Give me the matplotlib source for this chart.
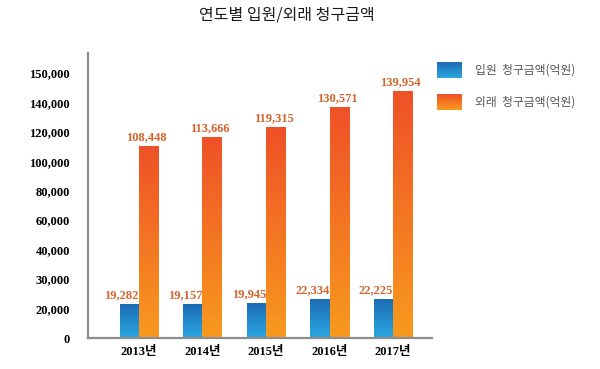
import numpy as np
import matplotlib
matplotlib.use('Agg')
import matplotlib.pyplot as plt
from matplotlib.colors import LinearSegmentedColormap

# data
years = ['2013년', '2014년', '2015년', '2016년', '2017년']
inpatient = [19282, 19157, 19945, 22334, 22225]
outpatient = [108448, 113666, 119315, 130571, 139954]
ytick_labels = ['0', '20,000', '30,000', '40,000', '60,000', '80,000',
                '100,000', '120,000', '140,000', '150,000']
series_names = ['입원  청구금액(억원)', '외래  청구금액(억원)']
title = '연도별 입원/외래 청구금액'

blue_cm = LinearSegmentedColormap.from_list('b', ['#2aa8e2', '#1c6ab4'])
orange_cm = LinearSegmentedColormap.from_list('o', ['#f89a1e', '#ef5127'])
label_color = '#d3642c'
kr = 'Noto Sans CJK KR'

fig = plt.figure(figsize=(6, 3.69), dpi=100)
ax = fig.add_axes([0.1467, 0.084, 0.573, 0.772])

x = np.arange(len(years))
w = 0.3
grad = np.linspace(0, 1, 256).reshape(-1, 1)


def grad_bars(bars, cmap):
    for b in bars:
        x0, y0 = b.get_xy()
        im = ax.imshow(grad, cmap=cmap, origin='lower', aspect='auto',
                       extent=[x0, x0 + b.get_width(), y0, y0 + b.get_height()],
                       zorder=2)
        im.set_clip_path(b)
        b.set_facecolor('none')


b1 = ax.bar(x - w / 2, inpatient, w, edgecolor='none', zorder=2)
b2 = ax.bar(x + w / 2, outpatient, w, edgecolor='none', zorder=2)
grad_bars(b1, blue_cm)
grad_bars(b2, orange_cm)

for xi, v in zip(x, inpatient):
    ax.annotate(f'{v:,}', (xi - w / 2 - 0.12, v), xytext=(0, 2), textcoords='offset points',
                ha='center', va='bottom', color=label_color, fontsize=9,
                fontfamily='Liberation Serif', fontweight='bold')
for xi, v in zip(x, outpatient):
    ax.annotate(f'{v:,}', (xi + w / 2 - 0.03, v), xytext=(0, 2), textcoords='offset points',
                ha='center', va='bottom', color=label_color, fontsize=9,
                fontfamily='Liberation Serif', fontweight='bold')

ax.set_xlim(-0.80, 4.61)
ax.set_ylim(0, 161100)
ax.set_yticks(np.linspace(0, 150000, len(ytick_labels)), ytick_labels)
ax.set_xticks(x, years)
for t in ax.get_yticklabels():
    t.set_fontfamily('Liberation Serif')
    t.set_fontweight('bold')
    t.set_fontsize(9)
for t in ax.get_xticklabels():
    t.set_fontfamily(['Liberation Serif', kr])
    t.set_fontweight('bold')
    t.set_fontsize(9)
ax.tick_params(length=0)
ax.tick_params(axis='y', pad=13)
ax.tick_params(axis='x', pad=6)

for s in ['top', 'right']:
    ax.spines[s].set_visible(False)
for s in ['left', 'bottom']:
    ax.spines[s].set_color('#8c8c8c')
    ax.spines[s].set_linewidth(1.6)

# legend drawn by hand so the swatches get the gradient too
for i, (name, cm) in enumerate(zip(series_names, [blue_cm, orange_cm])):
    top = 62 + i * 32
    lax = fig.add_axes([437 / 600, 1 - (top + 16) / 369, 25 / 600, 16 / 369])
    lax.imshow(grad, cmap=cm, origin='lower', aspect='auto')
    lax.axis('off')
    fig.text(475 / 600, 1 - (top + 8) / 369, name, fontfamily=kr, fontsize=8.5,
             color='#555555', va='center', ha='left')

fig.text(0.478, 0.958, title, fontfamily=kr, fontsize=11.5, ha='center', va='center',
         color='#1a1a1a', fontweight='medium')

fig.savefig('out.png', dpi=100)
